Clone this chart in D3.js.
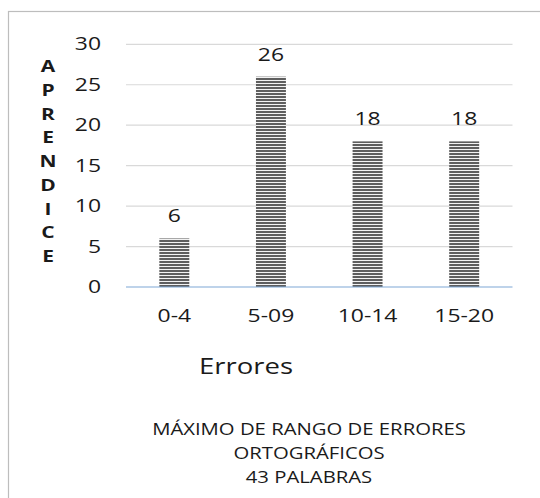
<!DOCTYPE html>
<html>
<head>
<meta charset="utf-8">
<script src="https://cdn.jsdelivr.net/npm/d3@7"></script>
<style>
  html, body { margin: 0; padding: 0; background: #fff; }
  svg { display: block; }
  text { font-family: "Open Sans", "Noto Sans", sans-serif; fill: #1a1a1a; }
</style>
</head>
<body>
<svg id="chart" width="540" height="498"></svg>
<script>
// Error ranges and the number of students in each
const categories = ["0-4", "5-09", "10-14", "15-20"];
const values = [6, 26, 18, 18];
const yTicks = [0, 5, 10, 15, 20, 25, 30];
const yTitleLetters = ["A", "P", "R", "E", "N", "D", "I", "C", "E"];
const xTitle = "Errores";
const titleLines = ["MÁXIMO DE RANGO DE ERRORES", "ORTOGRÁFICOS", "43 PALABRAS"];

const svg = d3.select("#chart");
const plot = { left: 126, right: 512.5, top: 44.3, bottom: 287 };
const wide = 1.31; // horizontal stretch of the lettering

// Place text at (x, y) with the wide lettering
function place(sel, fx, fy) {
  sel.attr("x", 0).attr("y", 0)
    .attr("transform", (d, i) => `translate(${fx(d, i)},${fy(d, i)}) scale(${wide},1)`);
}

// Striped fill for the bars
const defs = svg.append("defs");
const pat = defs.append("pattern")
  .attr("id", "stripes")
  .attr("patternUnits", "userSpaceOnUse")
  .attr("width", 8).attr("height", 3);
pat.append("rect").attr("width", 8).attr("height", 3).attr("fill", "#f2f2f2");
pat.append("rect").attr("y", 0).attr("width", 8).attr("height", 2).attr("fill", "#5e5e5e");

// Outer frame
svg.append("rect")
  .attr("x", 8.5).attr("y", 11.5)
  .attr("width", 540).attr("height", 498)
  .attr("fill", "none").attr("stroke", "#bdbdbd").attr("stroke-width", 1.2);

const x = d3.scaleBand().domain(categories).range([plot.left, plot.right]).paddingInner(0.69).paddingOuter(0.345);
const y = d3.scaleLinear().domain([0, 30]).range([plot.bottom, plot.top]);

// Gridlines
svg.append("g").selectAll("line")
  .data(yTicks.filter(d => d > 0))
  .join("line")
  .attr("x1", plot.left).attr("x2", plot.right)
  .attr("y1", d => y(d)).attr("y2", d => y(d))
  .attr("stroke", "#d9d9d9").attr("stroke-width", 1.2);

// Y axis tick labels
const yAxis = d3.axisLeft(y).tickValues(yTicks).tickSize(0).tickPadding(0);
const gy = svg.append("g").attr("transform", `translate(101,0)`).call(yAxis);
gy.select(".domain").remove();
gy.selectAll("text")
  .attr("x", 0)
  .attr("transform", `scale(${wide},1)`)
  .attr("font-size", 17.5).attr("fill", "#1a1a1a")
  .style("font-family", '"Open Sans", sans-serif');

// Bars
svg.append("g").selectAll("rect")
  .data(categories)
  .join("rect")
  .attr("x", d => x(d))
  .attr("width", x.bandwidth())
  .attr("y", (d, i) => y(values[i]))
  .attr("height", (d, i) => y(0) - y(values[i]))
  .attr("fill", "url(#stripes)");

// Baseline
svg.append("line")
  .attr("x1", plot.left).attr("x2", plot.right)
  .attr("y1", y(0)).attr("y2", y(0))
  .attr("stroke", "#7fa7d6").attr("stroke-width", 1.2);

// Value labels
svg.append("g").selectAll("text")
  .data(categories)
  .join("text")
  .attr("text-anchor", "middle")
  .attr("font-size", 17.5)
  .call(place, d => x(d) + x.bandwidth() / 2, (d, i) => y(values[i]) - 16)
  .text((d, i) => values[i]);

// X axis category labels
const xAxis = d3.axisBottom(x).tickSize(0).tickPadding(0);
const gx = svg.append("g").attr("transform", `translate(0,${y(0)})`).call(xAxis);
gx.select(".domain").remove();
gx.selectAll("text")
  .attr("y", 35).attr("dy", 0)
  .attr("transform", `scale(${wide},1)`)
  .attr("font-size", 17.5).attr("fill", "#1a1a1a")
  .style("font-family", '"Open Sans", sans-serif');

// Y axis title, one letter per line
svg.append("g").selectAll("text")
  .data(yTitleLetters)
  .join("text")
  .attr("text-anchor", "middle")
  .attr("font-size", 16)
  .attr("font-weight", "bold")
  .call(place, () => 48, (d, i) => 72 + i * 23.75)
  .text(d => d);

// X axis title
svg.append("text")
  .datum(xTitle)
  .attr("text-anchor", "middle")
  .attr("font-size", 21)
  .call(place, () => 246, () => 373.5)
  .text(d => d);

// Chart title below the plot
svg.append("g").selectAll("text")
  .data(titleLines)
  .join("text")
  .attr("text-anchor", "middle")
  .attr("font-size", 15.5)
  .call(place, () => 309, (d, i) => 435 + i * 24)
  .text(d => d);
</script>
</body>
</html>
